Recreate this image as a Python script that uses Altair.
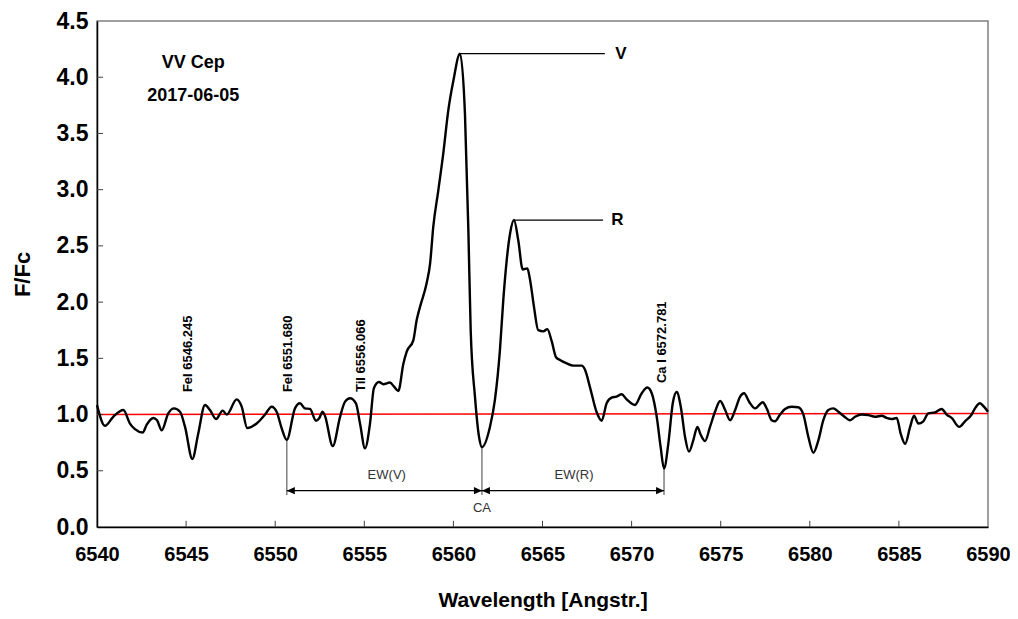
import altair as alt
import pandas as pd

# ---- spectrum ----
wavelength = [
    6540.00, 6540.45, 6540.91, 6541.48, 6541.85, 6542.13, 6542.56, 6542.79, 6543.16, 6543.37,
    6543.63, 6544.00, 6544.32, 6544.66, 6544.94, 6545.35, 6545.68, 6546.06, 6546.34, 6546.68,
    6547.05, 6547.28, 6547.84, 6548.12, 6548.43, 6548.96, 6549.43, 6549.80, 6550.08, 6550.36,
    6550.65, 6551.11, 6551.39, 6551.67, 6551.95, 6552.29, 6552.47, 6552.66, 6552.79, 6553.23,
    6553.64, 6553.92, 6554.20, 6554.53, 6554.76, 6555.04, 6555.32, 6555.54, 6555.82, 6556.07,
    6556.44, 6556.66, 6556.91, 6557.19, 6557.38, 6557.75, 6557.94, 6558.13, 6558.50, 6558.69,
    6558.87, 6559.15, 6559.43, 6559.71, 6560.00, 6560.37, 6560.65, 6560.84, 6560.97, 6561.21,
    6561.44, 6561.60, 6562.05, 6562.33, 6562.61, 6562.80, 6562.99, 6563.18, 6563.40, 6563.64,
    6563.89, 6564.15, 6564.30, 6564.52, 6564.76, 6565.05, 6565.27, 6565.52, 6565.76, 6565.98,
    6566.36, 6566.73, 6567.20, 6567.38, 6567.67, 6568.04, 6568.32, 6568.60, 6568.88, 6569.16,
    6569.44, 6569.72, 6570.19, 6570.57, 6570.88, 6571.13, 6571.41, 6571.63, 6571.82, 6572.06,
    6572.31, 6572.53, 6572.76, 6573.00, 6573.22, 6573.46, 6573.69, 6573.88, 6574.12, 6574.40,
    6574.68, 6574.97, 6575.25, 6575.53, 6575.81, 6576.09, 6576.31, 6576.61, 6576.93, 6577.36,
    6577.58, 6577.86, 6578.05, 6578.33, 6578.61, 6578.98, 6579.35, 6579.64, 6579.92, 6580.20,
    6580.48, 6580.76, 6581.04, 6581.32, 6581.60, 6581.88, 6582.26, 6582.54, 6582.91, 6583.28,
    6583.66, 6584.03, 6584.31, 6584.60, 6584.88, 6585.10, 6585.35, 6585.63, 6585.85, 6586.09,
    6586.37, 6586.65, 6587.03, 6587.40, 6587.68, 6587.96, 6588.39, 6588.71, 6589.08, 6589.27,
    6589.55, 6589.77, 6590.00,
]
flux = [
    1.085, 0.90, 0.98, 1.04, 0.92, 0.87, 0.84, 0.91, 0.97, 0.95,
    0.86, 1.01, 1.055, 1.025, 0.89, 0.605, 0.83, 1.085, 1.04, 0.96,
    1.035, 1.00, 1.135, 1.07, 0.88, 0.92, 1.00, 1.07, 1.025, 0.88,
    0.775, 1.055, 1.10, 1.055, 1.05, 0.945, 0.967, 1.025, 0.99, 0.72,
    0.98, 1.115, 1.145, 1.10, 0.92, 0.70, 0.92, 1.235, 1.29, 1.27,
    1.285, 1.25, 1.21, 1.45, 1.56, 1.66, 1.84, 1.96, 2.17, 2.34,
    2.67, 2.99, 3.32, 3.70, 3.97, 4.21, 3.67, 2.64, 1.75, 1.16,
    0.80, 0.71, 0.89, 1.13, 1.57, 2.02, 2.37, 2.61, 2.73, 2.55,
    2.29, 2.30, 2.20, 1.96, 1.75, 1.74, 1.76, 1.65, 1.51, 1.485,
    1.455, 1.435, 1.435, 1.40, 1.24, 1.02, 0.945, 1.10, 1.15, 1.16,
    1.18, 1.135, 1.085, 1.19, 1.24, 1.19, 0.98, 0.71, 0.52, 0.74,
    1.10, 1.20, 1.07, 0.80, 0.67, 0.77, 0.89, 0.82, 0.765, 0.89,
    1.025, 1.12, 1.04, 0.95, 1.04, 1.16, 1.19, 1.11, 1.055, 1.11,
    1.055, 0.95, 0.94, 1.00, 1.05, 1.07, 1.065, 1.00, 0.80, 0.66,
    0.77, 0.95, 1.04, 1.055, 1.025, 0.99, 0.95, 0.98, 1.00, 0.995,
    0.98, 0.99, 0.97, 0.96, 0.97, 0.83, 0.74, 0.89, 0.99, 0.92,
    0.94, 1.01, 1.02, 1.05, 1.00, 0.97, 0.89, 0.94, 1.00, 1.055,
    1.10, 1.07, 1.025,
]

# continuum (red line)
cont_x = [6540, 6590]
cont_y = [1.00, 1.01]

# axis ticks
x_tick_values = [6540, 6545, 6550, 6555, 6560, 6565, 6570, 6575, 6580, 6585, 6590]
y_tick_values = [0.0, 0.5, 1.0, 1.5, 2.0, 2.5, 3.0, 3.5, 4.0, 4.5]

# line identifications (rotated labels)
line_labels = ["FeI 6546.245", "FeI 6551.680", "TiI 6556.066", "Ca I 6572.781"]
line_label_x = [6545.1, 6550.72, 6554.81, 6571.71]
line_label_y = [1.20, 1.20, 1.20, 1.28]

# peak leaders
peak_names = ["V", "R"]
peak_x = [6560.37, 6563.40]
peak_y = [4.21, 2.73]
leader_end_x = [6568.5, 6568.4]
peak_text_x = [6569.4, 6569.2]

# EW markers
ew_edges_x = [6550.65, 6561.60, 6571.82]
ew_edges_top = [0.775, 0.71, 0.52]
ew_bottom = 0.285
ew_arrow_y = 0.323
ew_names = ["EW(V)", "EW(R)", "CA"]
ew_text_x = [6556.26, 6566.77, 6561.60]
ew_text_y = [0.46, 0.46, 0.17]

# title block
title_lines = ["VV Cep", "2017-06-05"]
title_x = [6545.4, 6545.4]
title_y = [4.13, 3.83]

FONT = "Liberation Sans"
xscale = alt.Scale(domain=[6540, 6590], nice=False, zero=False)
yscale = alt.Scale(domain=[0, 4.5], nice=False, zero=True)

spec_df = pd.DataFrame({"w": wavelength, "f": flux})
cont_df = pd.DataFrame({"w": cont_x, "f": cont_y})

X = alt.X("w:Q", scale=xscale,
          axis=alt.Axis(values=x_tick_values, format="d", title="Wavelength [Angstr.]",
                        labelFont=FONT, labelFontSize=20, labelFontWeight="bold", labelColor="black",
                        titleFont=FONT, titleFontSize=21, titleFontWeight="bold", titleColor="black",
                        labelPadding=17, titlePadding=25, ticks=False, tickSize=0, grid=False,
                        domainColor="black", domainWidth=1.5, labelFlush=False))
Y = alt.Y("f:Q", scale=yscale,
          axis=alt.Axis(values=y_tick_values, format=".1f", title="F/Fc",
                        labelFont=FONT, labelFontSize=23, labelFontWeight="bold", labelColor="black",
                        titleFont=FONT, titleFontSize=22, titleFontWeight="bold", titleColor="black",
                        labelPadding=9, titlePadding=22, ticks=False, tickSize=0, grid=False,
                        domainColor="black", domainWidth=1.5, labelFlush=False))

cont = alt.Chart(cont_df).mark_line(color="#ff0000", strokeWidth=1.5).encode(x=X, y=Y)

spectrum = alt.Chart(spec_df).mark_line(color="black", strokeWidth=2.4,
                                        interpolate="monotone").encode(
    x=alt.X("w:Q", scale=xscale), y=alt.Y("f:Q", scale=yscale))

# inward ticks
xt_df = pd.DataFrame({"w": x_tick_values[1:-1]})
xticks = alt.Chart(xt_df).mark_rule(color="#404040", strokeWidth=1).encode(
    x=alt.X("w:Q", scale=xscale), y=alt.datum(0.0), y2=alt.datum(0.055))
yt_df = pd.DataFrame({"f": y_tick_values[1:-1]})
yticks = alt.Chart(yt_df).mark_rule(color="#404040", strokeWidth=1).encode(
    y=alt.Y("f:Q", scale=yscale), x=alt.datum(6540.0), x2=alt.datum(6540.34))

# rotated line labels
ll_df = pd.DataFrame({"w": line_label_x, "f": line_label_y, "t": line_labels})
line_text = alt.Chart(ll_df).mark_text(angle=270, align="left", baseline="middle",
                                       font=FONT, fontSize=13, fontWeight="bold",
                                       color="black").encode(
    x=alt.X("w:Q", scale=xscale), y=alt.Y("f:Q", scale=yscale), text="t:N")

# peak leaders
pk_df = pd.DataFrame({"w": peak_x, "w2": leader_end_x, "f": peak_y,
                      "tx": peak_text_x, "t": peak_names})
leaders = alt.Chart(pk_df).mark_rule(color="black", strokeWidth=1.2).encode(
    x=alt.X("w:Q", scale=xscale), x2="w2:Q", y=alt.Y("f:Q", scale=yscale))
peak_text = alt.Chart(pk_df).mark_text(align="center", baseline="middle", font=FONT,
                                       fontSize=17, fontWeight="bold", color="black").encode(
    x=alt.X("tx:Q", scale=xscale), y=alt.Y("f:Q", scale=yscale), text="t:N")

# EW markers
ev_df = pd.DataFrame({"w": ew_edges_x, "top": ew_edges_top, "bot": [ew_bottom] * 3})
ew_vert = alt.Chart(ev_df).mark_rule(color="#7f7f7f", strokeWidth=1.5).encode(
    x=alt.X("w:Q", scale=xscale), y=alt.Y("top:Q", scale=yscale), y2="bot:Q")
ea_df = pd.DataFrame({"w": ew_edges_x[:2], "w2": ew_edges_x[1:], "f": [ew_arrow_y] * 2})
ew_arrow = alt.Chart(ea_df).mark_rule(color="black", strokeWidth=1.2).encode(
    x=alt.X("w:Q", scale=xscale), x2="w2:Q", y=alt.Y("f:Q", scale=yscale))
left_heads = pd.DataFrame({"w": [ew_edges_x[0], ew_edges_x[1]], "f": [ew_arrow_y] * 2})
right_heads = pd.DataFrame({"w": [ew_edges_x[1], ew_edges_x[2]], "f": [ew_arrow_y] * 2})
head_l = alt.Chart(left_heads).mark_point(shape="M0,0 L2,-0.9 L2,0.9 Z", size=64,
                                          filled=True, color="black", opacity=1).encode(
    x=alt.X("w:Q", scale=xscale), y=alt.Y("f:Q", scale=yscale))
head_r = alt.Chart(right_heads).mark_point(shape="M0,0 L-2,-0.9 L-2,0.9 Z", size=64,
                                           filled=True, color="black", opacity=1).encode(
    x=alt.X("w:Q", scale=xscale), y=alt.Y("f:Q", scale=yscale))
et_df = pd.DataFrame({"w": ew_text_x, "f": ew_text_y, "t": ew_names})
ew_text = alt.Chart(et_df).mark_text(align="center", baseline="middle", font=FONT,
                                     fontSize=13, color="#333333").encode(
    x=alt.X("w:Q", scale=xscale), y=alt.Y("f:Q", scale=yscale), text="t:N")

# title block
tt_df = pd.DataFrame({"w": title_x, "f": title_y, "t": title_lines})
title_text = alt.Chart(tt_df).mark_text(align="center", baseline="middle", font=FONT,
                                        fontSize=18, fontWeight="bold", color="black").encode(
    x=alt.X("w:Q", scale=xscale), y=alt.Y("f:Q", scale=yscale), text="t:N")

chart = alt.layer(
    cont, xticks, yticks, ew_vert, ew_arrow, head_l, head_r, spectrum, leaders,
    line_text, peak_text, ew_text, title_text
).properties(
    width=891, height=506,
    autosize=alt.AutoSizeParams(type="none"),
    padding={"left": 89, "top": 13, "right": 22, "bottom": 84},
    background="white",
).configure_view(stroke="#808080", strokeWidth=1.5)

chart.save("out.html", embed_options={"renderer": "svg", "actions": False})
